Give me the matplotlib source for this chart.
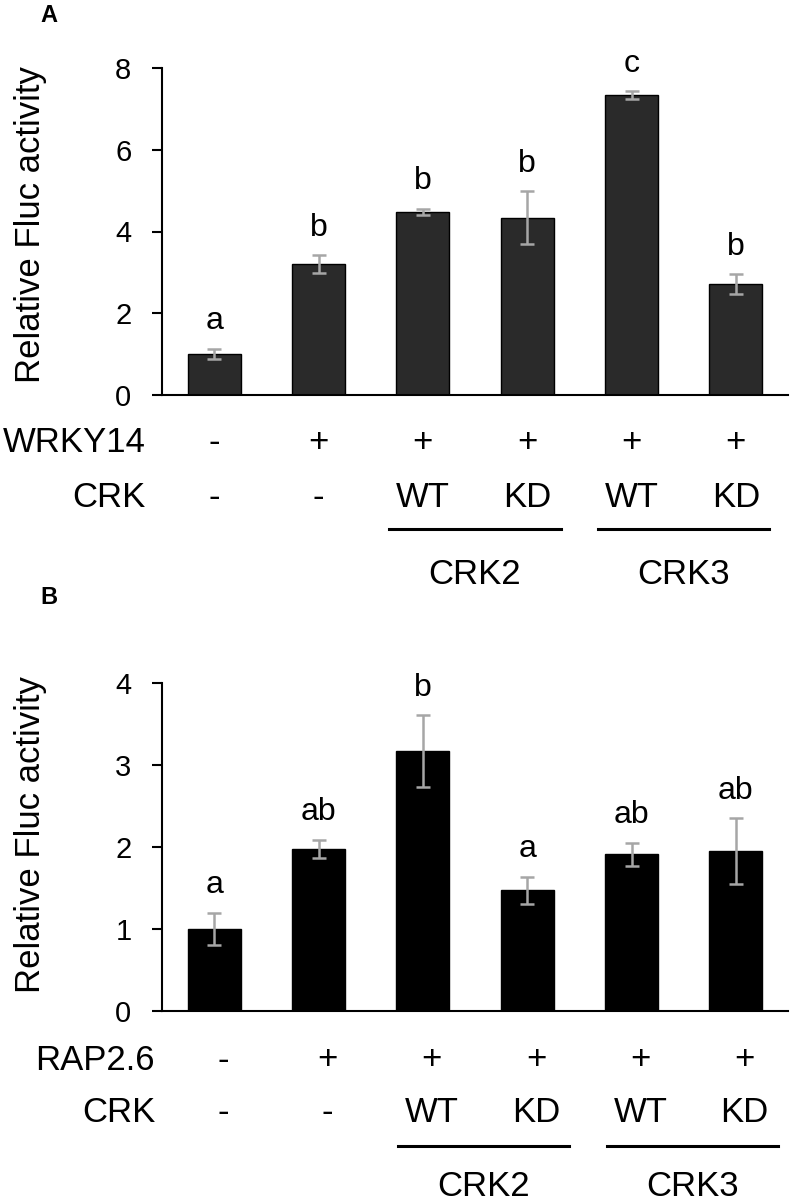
"""
Relative Fluc activity for WRKY14 and RAP2.6 with CRK2/CRK3 (WT / KD).
"""

import matplotlib
matplotlib.use("Agg")
import matplotlib.pyplot as plt
import matplotlib.transforms as mtransforms


plt.rcParams["font.family"] = ["Liberation Sans", "DejaVu Sans"]

# Panel A: WRKY14
a_means = [1.0, 3.2, 4.48, 4.34, 7.33, 2.71]
a_errors = [0.13, 0.22, 0.08, 0.65, 0.10, 0.24]
a_letters = ["a", "b", "b", "b", "c", "b"]
a_factor = ["-", "+", "+", "+", "+", "+"]

# Panel B: RAP2.6
b_means = [1.0, 1.98, 3.17, 1.47, 1.91, 1.95]
b_errors = [0.20, 0.11, 0.44, 0.17, 0.14, 0.40]
b_letters = ["a", "ab", "b", "a", "ab", "ab"]
b_factor = ["-", "+", "+", "+", "+", "+"]

crk_row = ["-", "-", "WT", "KD", "WT", "KD"]
groups = [("CRK2", 2, 3), ("CRK3", 4, 5)]

W, H = 792, 1203


def fy(py):
    return 1 - py / H


def draw_panel(ax, means, errors, letters, face, ymax, step):
    x = list(range(len(means)))
    ax.bar(x, means, width=0.51, color=face, edgecolor="black", linewidth=1.0, zorder=2)
    ax.errorbar(x, means, yerr=errors, fmt="none", ecolor="#a6a6a6",
                elinewidth=1.8, capsize=4.8, capthick=1.8, zorder=3)
    for xi, m, e, lab in zip(x, means, errors, letters):
        ax.annotate(lab, (xi, m + e), xytext=(0, 14), textcoords="offset points",
                    ha="center", va="baseline", fontsize=23)
    ax.set_xlim(-0.5, len(means) - 0.5)
    ax.set_ylim(0, ymax)
    ax.set_yticks(range(0, ymax + 1, step))
    ax.set_xticks([])
    for side in ["top", "right"]:
        ax.spines[side].set_visible(False)
    for side in ["left", "bottom"]:
        ax.spines[side].set_linewidth(1.5)
    ax.tick_params(axis="y", direction="out", length=7, width=1.5, pad=15, labelsize=21)
    ax.set_ylabel("Relative Fluc activity", fontsize=25)


def draw_rows(fig, ax, factor_name, factor, rows_px, label_right, shift):
    trans = mtransforms.blended_transform_factory(ax.transData, fig.transFigure)
    y1, y2, y_line, y_grp = [fy(v) for v in rows_px]
    fig.text(label_right / W, y1, factor_name, ha="right", va="center", fontsize=25)
    fig.text(label_right / W, y2, "CRK", ha="right", va="center", fontsize=25)
    for i, (f, c) in enumerate(zip(factor, crk_row)):
        ax.text(i + shift, y1, f, transform=trans, ha="center", va="center",
                fontsize=25, clip_on=False)
        ax.text(i + shift, y2, c, transform=trans, ha="center", va="center",
                fontsize=25, clip_on=False)
    for name, i0, i1 in groups:
        ax.plot([i0 + shift - 0.32, i1 + shift + 0.32], [y_line, y_line],
                transform=trans, color="black", linewidth=2.2, clip_on=False)
        ax.text((i0 + i1) / 2 + shift, y_grp, name, transform=trans, ha="center",
                va="center", fontsize=25, clip_on=False)


fig = plt.figure(figsize=(W / 100, H / 100), dpi=100)

ax_a = fig.add_axes([162 / W, fy(395), 626 / W, 327 / H])
draw_panel(ax_a, a_means, a_errors, a_letters, "#2a2a2a", 8, 2)
ax_a.yaxis.set_label_coords(-0.184, 0.52)
draw_rows(fig, ax_a, "WRKY14", a_factor, (442, 497, 529, 575), 146, 0.0)

ax_b = fig.add_axes([162 / W, fy(1011), 626 / W, 328 / H])
draw_panel(ax_b, b_means, b_errors, b_letters, "black", 4, 1)
ax_b.yaxis.set_label_coords(-0.184, 0.537)
draw_rows(fig, ax_b, "RAP2.6", b_factor, (1060, 1112, 1146, 1187), 155, 0.085)

fig.text(40 / W, fy(15), "A", ha="left", va="center", fontsize=17, fontweight="bold")
fig.text(40 / W, fy(598), "B", ha="left", va="center", fontsize=17, fontweight="bold")

fig.savefig("out.png", dpi=100)
